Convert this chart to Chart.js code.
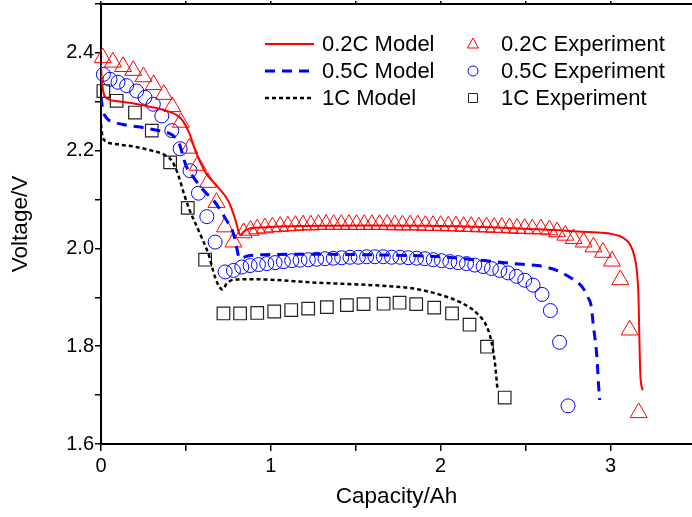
<!DOCTYPE html>
<html>
<head>
<meta charset="utf-8">
<script src="https://cdn.jsdelivr.net/npm/chart.js@4/dist/chart.umd.min.js"></script>
<style>
  html, body { margin: 0; padding: 0; background: #fff; }
  #wrap { width: 692px; height: 517px; }
</style>
</head>
<body>
<div id="wrap"><canvas id="chart"></canvas></div>
<script>
// ---- data ----
// 0.2C model curve
const model02X = [0, 0.005, 0.015, 0.04, 0.1, 0.2, 0.3, 0.38, 0.44, 0.48, 0.52, 0.56, 0.62, 0.69, 0.75, 0.79, 0.81, 0.82, 0.84, 0.87, 0.95, 1.2, 1.6, 2.0, 2.4, 2.7, 2.9, 3.0, 3.05, 3.09, 3.12, 3.14, 3.155, 3.165, 3.17, 3.176, 3.19];
const model02Y = [2.375, 2.345, 2.318, 2.306, 2.301, 2.296, 2.289, 2.282, 2.274, 2.262, 2.236, 2.196, 2.153, 2.125, 2.097, 2.06, 2.035, 2.027, 2.034, 2.040, 2.043, 2.046, 2.047, 2.046, 2.042, 2.037, 2.033, 2.030, 2.026, 2.018, 2.005, 1.985, 1.955, 1.90, 1.82, 1.74, 1.71];

// 0.5C model curve
const model05X = [0, 0.01, 0.03, 0.08, 0.15, 0.25, 0.35, 0.42, 0.46, 0.5, 0.55, 0.6, 0.67, 0.74, 0.78, 0.8, 0.815, 0.84, 0.87, 0.95, 1.2, 1.6, 2.0, 2.2, 2.43, 2.57, 2.63, 2.7, 2.76, 2.81, 2.84, 2.87, 2.885, 2.9, 2.92, 2.93, 2.936];
const model05Y = [2.31, 2.285, 2.268, 2.258, 2.252, 2.247, 2.24, 2.232, 2.215, 2.17, 2.143, 2.12, 2.095, 2.057, 2.03, 2.0, 1.98, 1.982, 1.985, 1.987, 1.988, 1.987, 1.983, 1.977, 1.969, 1.965, 1.961, 1.953, 1.941, 1.93, 1.918, 1.898, 1.885, 1.84, 1.778, 1.72, 1.69];

// 1C model curve
const model1X = [0, 0.008, 0.03, 0.1, 0.2, 0.3, 0.37, 0.42, 0.455, 0.49, 0.52, 0.574, 0.632, 0.672, 0.70, 0.715, 0.74, 0.78, 0.9, 1.27, 1.64, 1.84, 2.0, 2.115, 2.214, 2.273, 2.302, 2.322, 2.335];
const model1Y = [2.254, 2.23, 2.219, 2.213, 2.208, 2.2, 2.192, 2.178, 2.15, 2.11, 2.08, 2.037, 1.989, 1.941, 1.92, 1.916, 1.928, 1.936, 1.937, 1.93, 1.924, 1.918, 1.905, 1.89, 1.867, 1.839, 1.805, 1.758, 1.71];

// 0.2C experiment (triangles)
const exp02X = [0.01, 0.07, 0.13, 0.19, 0.25, 0.31, 0.37, 0.42, 0.47, 0.52, 0.57, 0.63, 0.68, 0.73, 0.78, 0.84, 0.88,
  0.92, 0.965, 1.01, 1.055, 1.10, 1.145, 1.19, 1.235, 1.28, 1.325, 1.37, 1.415, 1.46, 1.505, 1.55, 1.595, 1.64, 1.685, 1.73, 1.775,
  1.82, 1.865, 1.91, 1.955, 2.0, 2.045, 2.09, 2.135, 2.18, 2.225, 2.27, 2.315, 2.36, 2.405, 2.45, 2.495, 2.54, 2.59,
  2.64, 2.685, 2.734, 2.783, 2.842, 2.90, 2.956, 3.009, 3.058, 3.113, 3.166];
const exp02Y = [2.39, 2.381, 2.372, 2.364, 2.351, 2.335, 2.315, 2.29, 2.258, 2.205, 2.17, 2.135, 2.094, 2.044, 2.013, 2.032, 2.037,
  2.040, 2.042, 2.044, 2.045, 2.046, 2.047, 2.048, 2.048, 2.049, 2.049, 2.049, 2.049, 2.049, 2.049, 2.049, 2.049, 2.049, 2.049, 2.048, 2.048,
  2.048, 2.048, 2.047, 2.047, 2.047, 2.046, 2.046, 2.045, 2.045, 2.044, 2.044, 2.043, 2.043, 2.042, 2.041, 2.041, 2.040, 2.040,
  2.038, 2.034, 2.027, 2.020, 2.013, 2.003, 1.992, 1.974, 1.936, 1.833, 1.664];

// 0.5C experiment (circles)
const exp05X = [0.014, 0.053, 0.10, 0.151, 0.21, 0.259, 0.308, 0.358, 0.417, 0.466, 0.524, 0.574, 0.623, 0.672, 0.731, 0.78, 0.829,
  0.878, 0.927, 0.976, 1.025, 1.074, 1.123, 1.172, 1.221, 1.27, 1.319, 1.368, 1.417, 1.466, 1.515, 1.564, 1.613, 1.662, 1.711, 1.76,
  1.809, 1.858, 1.907, 1.956, 2.005, 2.054, 2.103, 2.152, 2.201, 2.25, 2.299, 2.348, 2.397, 2.446, 2.495, 2.544, 2.597, 2.646, 2.70, 2.75];
const exp05Y = [2.356, 2.346, 2.34, 2.333, 2.322, 2.309, 2.295, 2.271, 2.241, 2.204, 2.159, 2.113, 2.065, 2.013, 1.952, 1.955, 1.962,
  1.965, 1.967, 1.969, 1.971, 1.973, 1.975, 1.976, 1.977, 1.978, 1.979, 1.980, 1.981, 1.982, 1.982, 1.983, 1.983, 1.983, 1.982, 1.982,
  1.981, 1.980, 1.979, 1.977, 1.975, 1.973, 1.971, 1.969, 1.966, 1.963, 1.959, 1.955, 1.950, 1.943, 1.935, 1.925, 1.906, 1.873, 1.808, 1.678];

// 1C experiment (squares)
const exp1X = [0.014, 0.092, 0.2, 0.299, 0.407, 0.511, 0.613, 0.721, 0.819, 0.92, 1.02, 1.12, 1.22, 1.33, 1.448, 1.546, 1.664, 1.758, 1.856, 1.962, 2.067, 2.17, 2.273, 2.377];
const exp1Y = [2.322, 2.302, 2.278, 2.241, 2.176, 2.083, 1.977, 1.867, 1.867, 1.868, 1.871, 1.874, 1.877, 1.88, 1.884, 1.886, 1.887, 1.889, 1.886, 1.879, 1.867, 1.844, 1.799, 1.695];

// axis ticks
const xTickValues = [0, 0.5, 1, 1.5, 2, 2.5, 3];
const xTickLabels = ['0', '', '1', '', '2', '', '3'];
const yTickValues = [1.6, 1.7, 1.8, 1.9, 2.0, 2.1, 2.2, 2.3, 2.4, 2.5];
const yTickLabels = ['1.6', '', '1.8', '', '2.0', '', '2.2', '', '2.4', ''];

const seriesNames = ['0.2C Model', '0.5C Model', '1C Model', '0.2C Experiment', '0.5C Experiment', '1C Experiment'];

// ---- helpers ----
const pts = (xs, ys) => xs.map((x, i) => ({ x: x, y: ys[i] }));
const FONT = '"Liberation Sans", Arial, sans-serif';
const RED = '#ff0000', BLUE = '#0000ff', BLACK = '#000000';

function lineSet(label, xs, ys, color, width, dash) {
  return {
    label: label, data: pts(xs, ys), showLine: true, borderColor: color, borderWidth: width,
    borderDash: dash, pointRadius: 0, pointHoverRadius: 0, cubicInterpolationMode: 'monotone', fill: false
  };
}
function markSet(label, xs, ys, color, style, radius, width) {
  return {
    label: label, data: pts(xs, ys), showLine: false, pointStyle: style, pointRadius: radius,
    pointHoverRadius: radius, pointBorderColor: color, pointBackgroundColor: 'rgba(0,0,0,0)',
    pointBorderWidth: width, borderColor: color, clip: false
  };
}

// fixed plot box: no extra label padding around the scales
function fixBox(size, horizontal) {
  return s => {
    if (horizontal) s.height = size; else s.width = size;
    s.paddingTop = 0; s.paddingBottom = 0; s.paddingLeft = 0; s.paddingRight = 0;
  };
}

// legend drawn inside the plot, two columns like the reference
const cornerLegend = {
  id: 'cornerLegend',
  afterDraw(chart) {
    const ctx = chart.ctx;
    const rowsY = [44, 71, 98];
    ctx.save();
    ctx.font = '22px ' + FONT;
    ctx.fillStyle = '#000';
    ctx.textBaseline = 'middle';
    ctx.textAlign = 'left';
    chart.data.datasets.forEach((ds, i) => {
      const col = i < 3 ? 0 : 1;
      const y = rowsY[i % 3];
      if (col === 0) {
        ctx.save();
        ctx.strokeStyle = ds.borderColor;
        ctx.lineWidth = ds.borderWidth;
        ctx.setLineDash(ds.borderDash || []);
        ctx.beginPath();
        ctx.moveTo(265, y);
        ctx.lineTo(314, y);
        ctx.stroke();
        ctx.restore();
        ctx.fillText(ds.label, 322, y + 1);
      } else {
        const cx = 473;
        ctx.save();
        ctx.strokeStyle = ds.pointBorderColor;
        ctx.lineWidth = 1;
        ctx.beginPath();
        if (ds.pointStyle === 'triangle') {
          ctx.moveTo(cx, y - 6); ctx.lineTo(cx + 5.5, y + 4); ctx.lineTo(cx - 5.5, y + 4); ctx.closePath();
        } else if (ds.pointStyle === 'circle') {
          ctx.arc(cx, y, 5, 0, Math.PI * 2);
        } else {
          ctx.rect(cx - 4.5, y - 4.5, 9, 9);
        }
        ctx.stroke();
        ctx.restore();
        ctx.fillText(ds.label, 501, y + 1);
      }
    });
    ctx.restore();
  }
};

new Chart(document.getElementById('chart'), {
  type: 'scatter',
  data: {
    datasets: [
      lineSet(seriesNames[0], model02X, model02Y, RED, 2, []),
      lineSet(seriesNames[1], model05X, model05Y, BLUE, 3, [10, 7]),
      lineSet(seriesNames[2], model1X, model1Y, BLACK, 2.5, [4, 3]),
      markSet(seriesNames[3], exp02X, exp02Y, RED, 'triangle', 9.8, 1),
      markSet(seriesNames[4], exp05X, exp05Y, BLUE, 'circle', 7, 1),
      markSet(seriesNames[5], exp1X, exp1Y, '#222222', 'rect', 8.9, 1.2)
    ]
  },
  options: {
    responsive: true,
    maintainAspectRatio: false,
    animation: false,
    devicePixelRatio: 1,
    layout: { padding: 0, autoPadding: false },
    plugins: { legend: { display: false }, tooltip: { enabled: false } },
    scales: {
      x: {
        type: 'linear', position: 'bottom', min: 0, max: 3.48,
        afterBuildTicks: s => { s.ticks = xTickValues.map(v => ({ value: v })); },
        afterFit: fixBox(73, true),
        ticks: {
          color: '#000', font: { family: FONT, size: 20 }, padding: 3, maxRotation: 0, autoSkip: false,
          callback: (v, i) => xTickLabels[i]
        },
        grid: { drawOnChartArea: false, drawTicks: true, tickLength: 7, color: '#000', lineWidth: 1.5 },
        border: { display: true, color: '#000', width: 2 },
        title: { display: true, text: 'Capacity/Ah', color: '#000', font: { family: FONT, size: 22.5 }, padding: { top: 0, bottom: 7 } }
      },
      x2: {
        type: 'linear', position: 'top', min: 0, max: 3.48,
        afterBuildTicks: s => { s.ticks = xTickValues.map(v => ({ value: v })); },
        afterFit: fixBox(4, true),
        ticks: { display: false },
        grid: { drawOnChartArea: false, drawTicks: true, tickLength: 3, color: '#000', lineWidth: 1.5 },
        border: { display: true, color: '#000', width: 2 }
      },
      y: {
        type: 'linear', position: 'left', min: 1.6, max: 2.5,
        afterBuildTicks: s => { s.ticks = yTickValues.map(v => ({ value: v })); },
        afterFit: fixBox(101, false),
        ticks: {
          color: '#000', font: { family: FONT, size: 20 }, padding: 1, autoSkip: false,
          callback: (v, i) => yTickLabels[i]
        },
        grid: { drawOnChartArea: false, drawTicks: true, tickLength: 6, color: '#000', lineWidth: 1.5 },
        border: { display: true, color: '#000', width: 2 },
        title: { display: true, text: 'Voltage/V', color: '#000', font: { family: FONT, size: 22.5 }, padding: { top: 7, bottom: 0 } }
      }
    }
  },
  plugins: [cornerLegend]
});
</script>
</body>
</html>
